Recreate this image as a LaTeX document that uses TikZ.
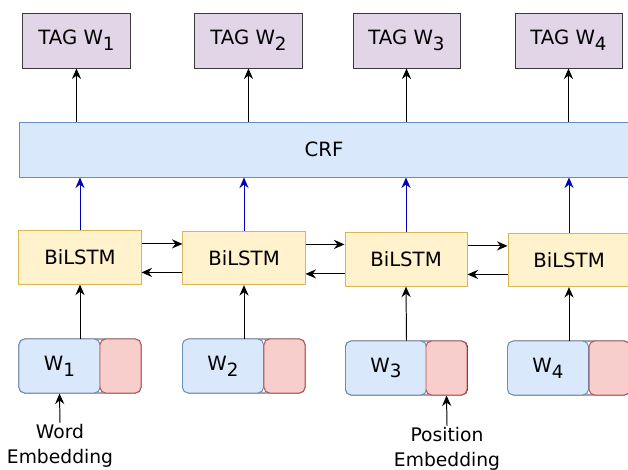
\documentclass[tikz,border=0pt]{standalone}
\usepackage{fontspec}
\setmainfont{DejaVu Sans}
\usetikzlibrary{shapes}
\usetikzlibrary{arrows,arrows.meta}

\definecolor{tagfill}{HTML}{E1D5E7}
\definecolor{tagline}{HTML}{3A3A3A}
\definecolor{crffill}{HTML}{DAE8FC}
\definecolor{crfline}{HTML}{6C8EBF}
\definecolor{lstmfill}{HTML}{FFF2CC}
\definecolor{lstmline}{HTML}{D6B656}
\definecolor{posfill}{HTML}{F8CECC}
\definecolor{posline}{HTML}{B85450}
\definecolor{upblue}{HTML}{0000B8}

% subscript of the word index
\newcommand\wsub[1]{\raisebox{-4pt}{\fontsize{13}{13}\selectfont #1}}

\begin{document}
\begin{tikzpicture}[x=0.025cm,y=-0.025cm,line width=0.7pt,
  >={Stealth[length=7.5pt,width=6.5pt,inset=2.5pt]},
  every node/.style={font=\fontsize{14}{17.5}\selectfont},
  tag/.style={draw=tagline,fill=tagfill,minimum width=2.675cm,minimum height=1.375cm,inner sep=0pt},
  lstm/.style={draw=lstmline,fill=lstmfill,minimum width=3.05cm,minimum height=1.33cm,inner sep=0pt},
  pair/.style={draw=black,line width=0.5pt,rounded corners=4pt,minimum width=3.05cm,minimum height=1.35cm,inner sep=0pt},
  word/.style={draw=crfline,fill=crffill,rounded corners=4pt,minimum width=2.025cm,minimum height=1.35cm,inner sep=0pt},
  posbox/.style={draw=posline,fill=posfill,rounded corners=4pt,minimum width=1.025cm,minimum height=1.35cm,inner sep=0pt},
  emb/.style={align=center,inner sep=1pt,font=\fontsize{13.3}{17.5}\selectfont},
  up/.style={->,draw=upblue}]

\useasboundingbox (0,0) rectangle (628,469);

% output tags
\node[tag] (t1) at (76.5,40.5) {TAG W\wsub{1}};
\node[tag] (t2) at (248.5,40.5) {TAG W\wsub{2}};
\node[tag] (t3) at (406.5,40.5) {TAG W\wsub{3}};
\node[tag] (t4) at (568.5,40.5) {TAG W\wsub{4}};

% crf layer
\node[draw=crfline,fill=crffill,minimum width=15.2cm,minimum height=1.375cm,inner sep=0pt] (crf) at (324,149.5) {CRF};

% bilstm cells
\node[lstm] (b1) at (80,257.5) {BiLSTM};
\node[lstm] (b2) at (244,258) {BiLSTM};
\node[lstm] (b3) at (406,259.5) {BiLSTM};
\node[lstm] (b4) at (569,260) {BiLSTM};

% word + position inputs
\node[pair] (e1) at (80,366) {};
\node[word] (w1) at (59.5,366) {W\wsub{1}};
\node[posbox] (p1) at (120.5,366) {};
\node[pair] (e2) at (244,366) {};
\node[word] (w2) at (223,366) {W\wsub{2}};
\node[posbox] (p2) at (284.5,366) {};
\node[pair] (e3) at (406.5,368) {};
\node[word] (w3) at (386,368) {W\wsub{3}};
\node[posbox] (p3) at (446.5,368) {};
\node[pair] (e4) at (569,368) {};
\node[word] (w4) at (548,368) {W\wsub{4}};
\node[posbox] (p4) at (609.5,368) {};

\node[emb] (lw) at (60,446) {Word\\Embedding};
\node[emb] (lp) at (447,449) {Position\\Embedding};

% connections
\foreach \i in {1,2,3,4} {
  \draw[->] (e\i.north) -- (b\i.south);
  \draw[up] (b\i.north) -- (b\i.north |- crf.south);
  \draw[->] (t\i.south |- crf.north) -- (t\i.south);
}
\foreach \i/\j in {1/2,2/3,3/4} {
  \draw[->] ([yshift=0.34cm]b\i.east) -- ([yshift=0.34cm]b\i.east -| b\j.west);
  \draw[->] ([yshift=-0.36cm]b\j.west) -- ([yshift=-0.36cm]b\j.west -| b\i.east);
}
\draw[->] (lw.north) -- (w1.south);
\draw[->] (lp.north) -- (p3.south);
\end{tikzpicture}
\end{document}
